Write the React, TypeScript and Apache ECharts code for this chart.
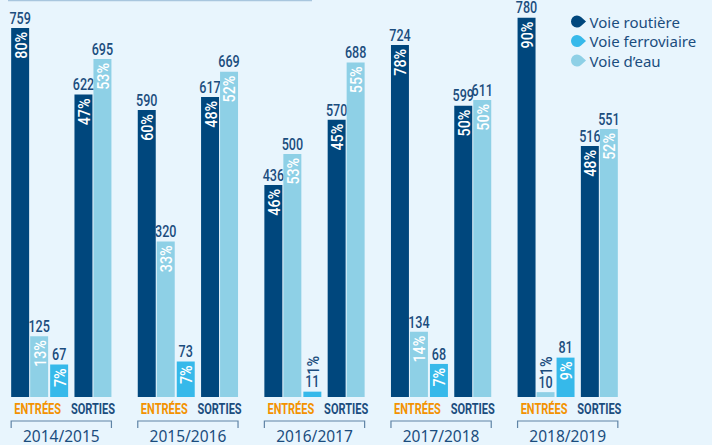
import React, { useEffect, useRef } from "react";
import * as echarts from "echarts";

const categories = ["ENTRÉES", "SORTIES", "ENTRÉES", "SORTIES", "ENTRÉES", "SORTIES", "ENTRÉES", "SORTIES", "ENTRÉES", "SORTIES"];
const years = ["2014/2015", "2015/2016", "2016/2017", "2017/2018", "2018/2019"];
const routiere = [759, 622, 590, 617, 436, 570, 724, 599, 780, 516];
const routierePct = ["80%", "47%", "60%", "48%", "46%", "45%", "78%", "50%", "90%", "48%"];
const eau = [125, 695, 320, 669, 500, 688, 134, 611, 10, 551];
const eauPct = ["13%", "53%", "33%", "52%", "53%", "55%", "14%", "50%", "1%", "52%"];
const ferro = [67, null, 73, null, 11, null, 68, null, 81, null];
const ferroPct = ["7%", null, "7%", null, "1%", null, "7%", null, "9%", null];

const C_ROUTE = "#00477d";
const C_FERRO = "#36b9ea";
const C_EAU = "#8ed0e6";
const C_TEXT = "#1b4d7e";
const FONT = 'Roboto, "Noto Sans", sans-serif';

const SLOT = [-0.45, -0.15, 0.166];
const BARW = 0.284;

function makeBarRender(slot: number, pcts: (string | null)[]) {
  return (params: any, api: any) => {
    const idx = api.value(0);
    const val = api.value(1);
    const pct = pcts[idx] || "";
    const base = api.coord([idx, 0]);
    const top = api.coord([idx, val]);
    const band = api.size([1, 0])[0];
    const w = band * BARW;
    const x0 = base[0] + SLOT[slot] * band;
    const cx = x0 + w / 2;
    const h = base[1] - top[1];
    const children: any[] = [
      { type: "rect", shape: { x: x0, y: top[1], width: w, height: h }, style: { fill: api.visual("color") } },
      {
        type: "text",
        x: cx,
        y: top[1] - 1.5,
        scaleX: 0.74,
        style: { text: String(val), align: "center", verticalAlign: "bottom", fill: C_TEXT, font: `500 17px ${FONT}` },
      },
    ];
    if (h > 22) {
      children.push({
        type: "text",
        x: cx + 0.5,
        y: top[1] + 4,
        rotation: Math.PI / 2,
        scaleX: 0.84,
        style: { text: pct, align: "right", verticalAlign: "middle", fill: "#ffffff", font: `500 17px ${FONT}` },
      });
    } else {
      children.push({
        type: "text",
        x: cx + 0.5,
        y: top[1] - 17,
        rotation: Math.PI / 2,
        scaleX: 0.84,
        style: { text: pct, align: "left", verticalAlign: "middle", fill: C_TEXT, font: `500 17px ${FONT}` },
      });
    }
    return { type: "group", children };
  };
}

function bracketRender(params: any, api: any) {
  const i = api.value(0);
  const a = api.coord([2 * i, 0]);
  const b = api.coord([2 * i + 1, 0]);
  const band = api.size([1, 0])[0];
  const left = a[0] + SLOT[0] * band;
  const right = b[0] + SLOT[1] * band + band * BARW;
  const eCenter = (left + a[0] + SLOT[2] * band + band * BARW) / 2 - 2;
  const sCenter = (b[0] + SLOT[0] * band + right) / 2;
  const y = a[1];
  return {
    type: "group",
    children: [
      {
        type: "text",
        x: eCenter,
        y: y + 12,
        scaleX: 0.76,
        style: { text: categories[2 * i], align: "center", verticalAlign: "middle", fill: "#f39200", font: `bold 14.5px ${FONT}` },
      },
      {
        type: "text",
        x: sCenter,
        y: y + 12,
        scaleX: 0.76,
        style: { text: categories[2 * i + 1], align: "center", verticalAlign: "middle", fill: C_TEXT, font: `bold 14.5px ${FONT}` },
      },
      {
        type: "polyline",
        shape: { points: [[left, y + 31], [left, y + 24], [right, y + 24], [right, y + 31]] },
        style: { stroke: "#5f84a6", lineWidth: 1.2, fill: "none" },
      },
      {
        type: "text",
        x: (left + right) / 2,
        y: y + 38.5,
        style: { text: years[i], align: "center", verticalAlign: "middle", fill: C_TEXT, font: '15.5px "Noto Sans", sans-serif' },
      },
    ],
  };
}

const dropIcon = "path://M10,1.54 A6,6 0 1,0 10,10.46 L15,6 Z";

export default function App() {
  const ref = useRef<HTMLDivElement>(null);
  useEffect(() => {
    document.body.style.margin = "0";
    document.body.style.background = "#e8f5fd";
    const chart = echarts.init(ref.current!, null, { renderer: "svg" });
    const mk = (arr: (number | null)[]) =>
      arr.map((v, i) => (v == null ? null : [i, v])).filter((d) => d != null);
    chart.setOption({
      animation: false,
      backgroundColor: "#e8f5fd",
      color: [C_ROUTE, C_EAU, C_FERRO],
      grid: { left: 8, width: 633, top: 8, bottom: 48, containLabel: false },
      legend: {
        orient: "vertical",
        left: 566,
        top: 9,
        itemWidth: 16,
        itemHeight: 12,
        itemGap: 4.5,
        selectedMode: false,
        data: [
          { name: "Voie routière", icon: dropIcon },
          { name: "Voie ferroviaire", icon: dropIcon },
          { name: "Voie d’eau", icon: dropIcon },
        ],
        textStyle: { fontSize: 15, color: C_TEXT, fontFamily: '"Noto Sans", sans-serif', padding: [0, 0, 0, -2] },
      },
      xAxis: {
        type: "category",
        data: categories,
        axisLine: { show: false },
        axisTick: { show: false },
        axisLabel: { show: false },
      },
      yAxis: { type: "value", min: 0, max: 800, show: false, splitLine: { show: false } },
      graphic: [
        { type: "line", shape: { x1: 8, y1: 0.5, x2: 312, y2: 0.5 }, style: { stroke: "#a8c6de", lineWidth: 1.5 } },
      ],
      series: [
        {
          type: "custom",
          name: "Voie routière",
          itemStyle: { color: C_ROUTE },
          renderItem: makeBarRender(0, routierePct),
          encode: { x: 0, y: 1 },
          data: mk(routiere),
        },
        {
          type: "custom",
          name: "Voie d’eau",
          itemStyle: { color: C_EAU },
          renderItem: makeBarRender(1, eauPct),
          encode: { x: 0, y: 1 },
          data: mk(eau),
        },
        {
          type: "custom",
          name: "Voie ferroviaire",
          itemStyle: { color: C_FERRO },
          renderItem: makeBarRender(2, ferroPct),
          encode: { x: 0, y: 1 },
          data: mk(ferro),
        },
        {
          type: "custom",
          name: "years",
          renderItem: bracketRender,
          encode: { x: 0, y: 1 },
          data: years.map((_, i) => [i, 0]),
          silent: true,
        },
      ],
    });
    return () => chart.dispose();
  }, []);
  return <div ref={ref} style={{ width: 712, height: 445 }} />;
}
